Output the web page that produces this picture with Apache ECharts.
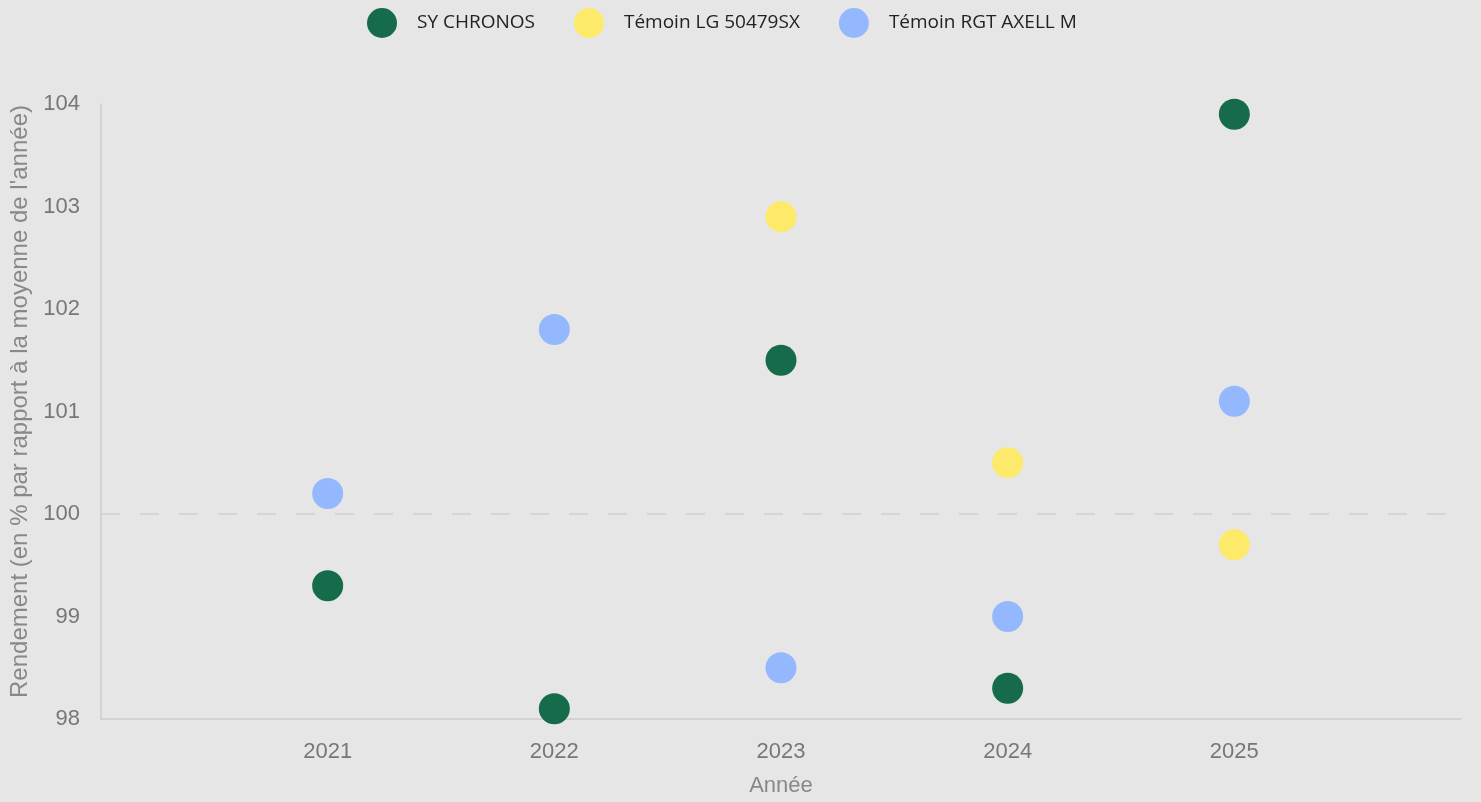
<!DOCTYPE html>
<html>
<head>
<meta charset="utf-8">
<script src="https://cdn.jsdelivr.net/npm/echarts@6/dist/echarts.min.js"></script>
<style>
html,body{margin:0;padding:0;background:#e6e6e6;}
#c{width:1481px;height:802px;}
</style>
</head>
<body>
<div id="c"></div>
<script>
const years = [2021, 2022, 2023, 2024, 2025];
const seriesNames = ['SY CHRONOS', 'Témoin LG 50479SX', 'Témoin RGT AXELL M'];
const chronos = [[2021, 99.3], [2022, 98.1], [2023, 101.5], [2024, 98.3], [2025, 103.9]];
const lg50479 = [[2023, 102.9], [2024, 100.5], [2025, 99.7]];
const axell = [[2021, 100.2], [2022, 101.8], [2023, 98.5], [2024, 99.0], [2025, 101.1]];
const yTicks = [98, 99, 100, 101, 102, 103, 104];
const colors = ['#156b4a', '#fde96a', '#94b8fd'];

const chart = echarts.init(document.getElementById('c'));
const mkSeries = (name, data, color, extra) => Object.assign({
  name, type: 'scatter', data, symbol: 'circle', symbolSize: 31,
  itemStyle: { color, opacity: 1 }, emphasis: { disabled: true }
}, extra || {});

const axisFont = { fontFamily: 'Liberation Sans', fontSize: 22 };

chart.setOption({
  backgroundColor: '#e6e6e6',
  color: colors,
  legend: {
    top: 3, left: 362, icon: 'circle', itemWidth: 30, itemHeight: 30, itemGap: 39,
    data: seriesNames,
    textStyle: { fontFamily: 'Open Sans', fontSize: 19, color: '#222', padding: [0, 0, 0, 15] }
  },
  grid: { left: 101, right: 20, top: 104, bottom: 83 },
  xAxis: {
    type: 'value', min: 2020, max: 2026, interval: 1,
    name: 'Année', nameLocation: 'middle', nameGap: 56,
    nameTextStyle: Object.assign({ color: '#888' }, axisFont),
    axisLine: { show: true, lineStyle: { color: '#cccccc', width: 1.5 } },
    axisTick: { show: false },
    splitLine: { show: false },
    axisLabel: Object.assign({
      margin: 22, color: '#777',
      formatter: v => years.indexOf(v) >= 0 ? String(v) : ''
    }, axisFont)
  },
  yAxis: {
    type: 'value', min: yTicks[0], max: yTicks[yTicks.length - 1], interval: 1,
    name: "Rendement (en % par rapport à la moyenne de l'année)",
    nameLocation: 'middle', nameGap: 68,
    nameTextStyle: { fontFamily: 'Liberation Sans', fontSize: 24, color: '#888', padding: [0, 0, 0, 20] },
    axisLine: { show: true, lineStyle: { color: '#cccccc', width: 1.5 } },
    axisTick: { show: false },
    splitLine: { show: false },
    axisLabel: Object.assign({ margin: 21, color: '#777' }, axisFont)
  },
  series: [
    mkSeries(seriesNames[0], chronos, colors[0], {
      z: 3,
      markLine: {
        silent: true, symbol: 'none', label: { show: false },
        lineStyle: { color: '#cfcfcf', type: [19, 20], width: 1.5 },
        data: [{ yAxis: 100 }]
      }
    }),
    mkSeries(seriesNames[1], lg50479, colors[1]),
    mkSeries(seriesNames[2], axell, colors[2])
  ]
});
</script>
</body>
</html>
